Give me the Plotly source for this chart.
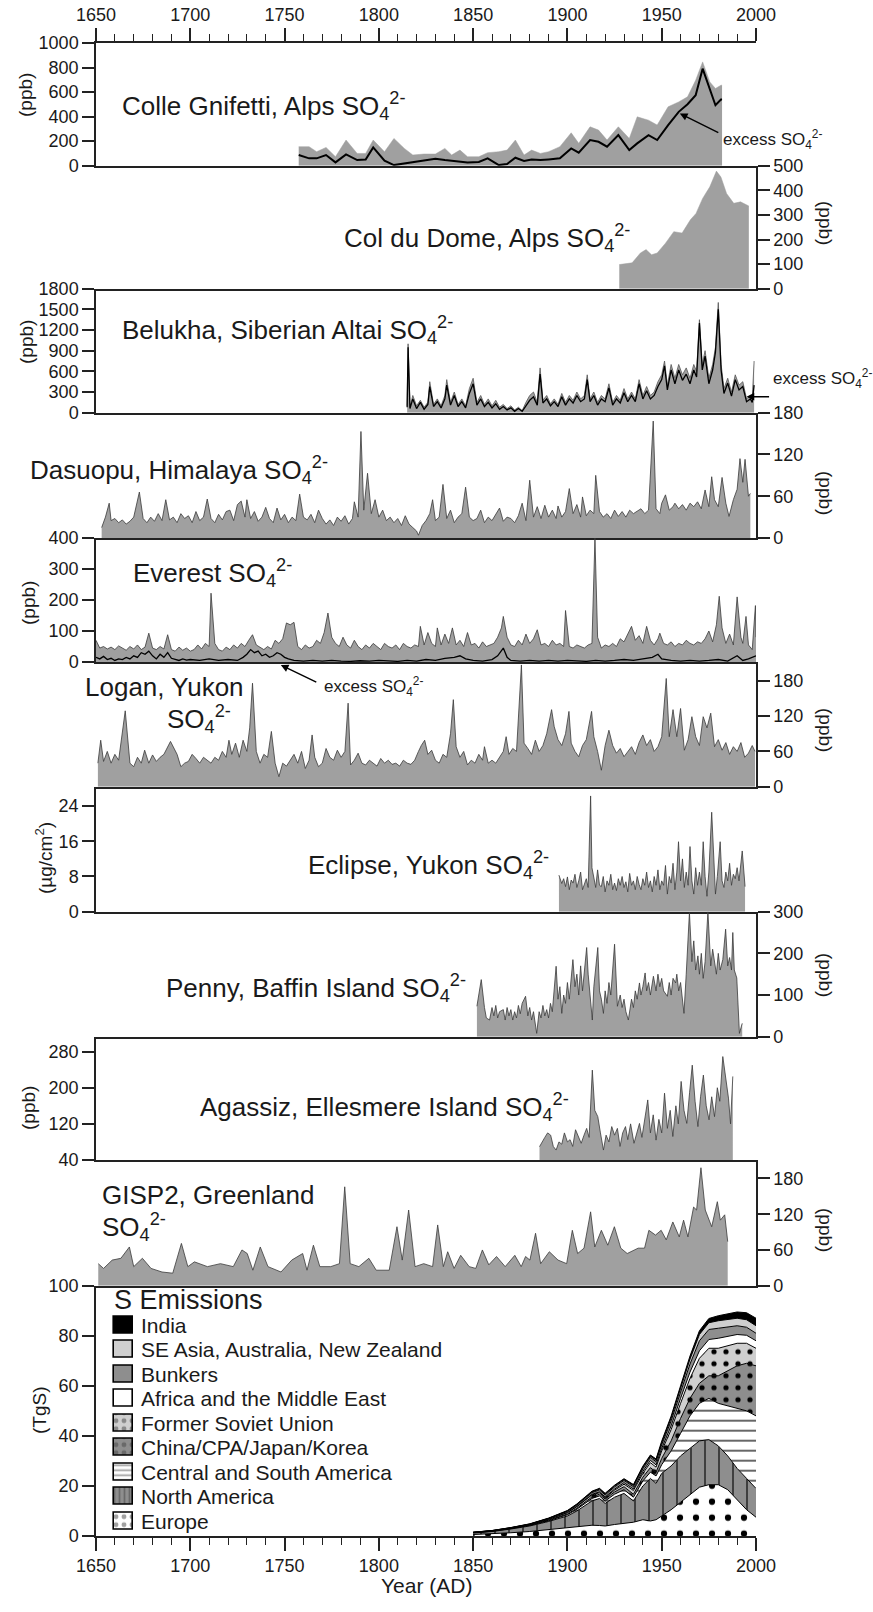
import plotly.graph_objects as go

# ---------------- data ----------------
colle_total = [(1757.5,155),(1763,155),(1767,114),(1772,149),(1777,73),(1782.6,209),(1788.5,100),(1793,100),
               (1797,209),(1803,114),(1808,222),(1813.5,141),(1818,87),(1824,95),(1830,95),(1835,141),(1838.6,87),
               (1843,127),(1847,73),(1853,73),(1857.7,106),(1863.6,114),(1868,127),(1872.4,209),(1877,87),(1881,127),
               (1885.7,100),(1890,114),(1896,155),(1902,268),(1906,182),(1912,317),(1916.5,290),(1921,209),(1927,317),
               (1932.8,222),(1937,398),(1943,371),(1947.6,331),(1953.4,480),(1959,520),(1963.7,561),(1968,697),
               (1971.7,846),(1975.5,683),(1978.5,629),(1981.4,656),(1982,656)]
colle_excess = [(1757.5,87),(1763,60),(1767,60),(1772,87),(1777,27),(1782.6,92),(1788.5,46),(1793,51),(1797,149),
                (1803,41),(1808,5),(1813.5,19),(1818,30),(1824,46),(1830,57),(1835,46),(1843,30),(1847,27),(1853,30),
                (1857.7,60),(1863.6,5),(1868,14),(1872.4,65),(1877,38),(1881,51),(1885.7,46),(1890,51),(1896,60),
                (1902,141),(1906,106),(1912,209),(1916.5,195),(1921,155),(1927,249),(1932.8,127),(1937,182),(1943,249),
                (1947.6,209),(1953.4,331),(1959,439),(1963.7,501),(1968,575),(1971.7,791),(1975.5,629),(1978.5,493),
                (1981.4,539),(1982,539)]

coldudome = [(1927.5,98),(1934.3,105),(1938.7,145),(1941.7,159),(1944.6,138),(1947.6,145),(1952,185),(1956.4,232),
             (1960.8,226),(1965.2,280),(1968.2,306),(1971.7,367),(1975.5,414),(1979,478),(1981.4,454),(1984.4,387),
             (1988.2,347),(1991.8,353),(1996.2,336)]

belukha_total = [(1815,100),(1815.5,1000),(1816.5,80),(1818,250),(1820,100),(1822,180),(1824,80),(1826,150),(1827,450),
    (1829,120),(1831,200),(1833,100),(1835,250),(1836,480),(1838,150),(1840,300),(1842,120),(1844,200),(1846,100),
    (1848,350),(1850,500),(1852,150),(1854,250),(1856,120),(1858,200),(1860,100),(1862,180),(1864,80),(1866,120),
    (1868,60),(1870,100),(1872,40),(1874,80),(1876,30),(1878,150),(1880,250),(1882,300),(1884,150),(1885.5,650),
    (1887,180),(1889,250),(1891,130),(1893,200),(1895,120),(1897,280),(1899,150),(1901,250),(1903,180),(1905,300),
    (1907,200),(1909,250),(1910.5,550),(1912,200),(1914,300),(1916,150),(1918,250),(1920,200),(1922,420),(1924,150),
    (1926,250),(1928,180),(1930,350),(1932,200),(1934,300),(1936,200),(1938,480),(1940,250),(1942,380),(1944,250),
    (1946,300),(1948,450),(1950,550),(1951.5,750),(1953,400),(1955,700),(1957,500),(1959,700),(1961,550),(1963,650),
    (1965,500),(1967,700),(1968.5,600),(1970,1350),(1971.5,700),(1973,900),(1975,500),(1977,700),(1978.5,950),
    (1980,1600),(1981.5,700),(1983,350),(1985,500),(1987,300),(1989,550),(1991,400),(1993,450),(1995,200),(1997,250),
    (1998,200),(1999,750)]
belukha_excess = [(1815,80),(1815.5,950),(1816.5,60),(1818,200),(1820,60),(1822,150),(1824,50),(1826,120),(1827,380),
    (1829,90),(1831,160),(1833,70),(1835,200),(1836,400),(1838,110),(1840,250),(1842,90),(1844,160),(1846,70),
    (1848,280),(1850,420),(1852,110),(1854,200),(1856,90),(1858,150),(1860,70),(1862,130),(1864,50),(1866,90),
    (1868,40),(1870,70),(1872,20),(1874,60),(1876,20),(1878,100),(1880,180),(1882,230),(1884,110),(1885.5,560),
    (1887,140),(1889,200),(1891,100),(1893,160),(1895,90),(1897,230),(1899,110),(1901,200),(1903,140),(1905,250),
    (1907,160),(1909,200),(1910.5,480),(1912,160),(1914,250),(1916,110),(1918,200),(1920,160),(1922,360),(1924,110),
    (1926,200),(1928,140),(1930,290),(1932,160),(1934,250),(1936,160),(1938,420),(1940,200),(1942,320),(1944,200),
    (1946,250),(1948,380),(1950,480),(1951.5,680),(1953,330),(1955,620),(1957,420),(1959,620),(1961,470),(1963,560),
    (1965,420),(1967,620),(1968.5,520),(1970,1300),(1971.5,620),(1973,820),(1975,420),(1977,620),(1978.5,880),
    (1980,1500),(1981.5,620),(1983,280),(1985,430),(1987,240),(1989,480),(1991,330),(1993,380),(1995,160),(1997,200),
    (1998,150),(1999,400)]

dasuopu = [(1653,15),(1655,30),(1657,50),(1658,25),(1660,28),(1662,22),(1664,26),(1666,20),(1668,24),(1670,30),(1673,66),
    (1675,28),(1677,22),(1679,30),(1681,24),(1683,35),(1685,25),(1687,55),(1689,26),(1691,30),(1693,22),(1695,35),
    (1697,28),(1699,32),(1701,22),(1703,38),(1705,25),(1707,30),(1709,56),(1711,28),(1713,22),(1715,34),(1717,26),
    (1719,38),(1721,40),(1723,25),(1725,48),(1727,53),(1729,30),(1730,55),(1732,28),(1734,38),(1736,24),(1738,30),
    (1740,44),(1742,28),(1744,22),(1746,43),(1748,26),(1750,34),(1752,22),(1754,30),(1756,25),(1758,63),(1760,30),
    (1762,26),(1764,34),(1766,22),(1768,40),(1770,28),(1772,20),(1774,26),(1776,18),(1778,30),(1780,24),(1782,32),
    (1784,20),(1786,28),(1787,52),(1789,30),(1790.5,153),(1792,40),(1794,93),(1796,35),(1798,55),(1800,30),(1802,40),
    (1804,25),(1806,30),(1808,22),(1810,28),(1812,18),(1814,32),(1816,20),(1818,15),(1820,10),(1821,4),(1823,18),
    (1825,25),(1827,35),(1828.5,55),(1830,25),(1832,30),(1834,77),(1836,28),(1838,40),(1840,22),(1842,30),(1844,35),
    (1846,73),(1848,30),(1850,25),(1852,28),(1854,40),(1856,22),(1858,30),(1860,25),(1862,35),(1864,43),(1866,24),
    (1868,30),(1870,28),(1872,22),(1874,32),(1876,50),(1878,25),(1880,83),(1882,30),(1884,45),(1886,28),(1888,47),
    (1890,30),(1892,40),(1894,28),(1895,46),(1897,30),(1899,38),(1901,71),(1903,35),(1905,48),(1907,30),(1908,59),
    (1910,32),(1912,40),(1914,35),(1915,90),(1917,38),(1919,30),(1921,35),(1923,28),(1925,40),(1927,31),(1929,38),
    (1931,30),(1933,40),(1935,35),(1937,38),(1939,42),(1941,35),(1943,40),(1945.5,168),(1947,42),(1949,35),(1950,50),
    (1952,62),(1954,40),(1956,45),(1957,50),(1959,42),(1961,48),(1963,40),(1965,50),(1967,45),(1969,52),(1971,42),
    (1973,69),(1975,45),(1976.5,88),(1978,55),(1980,45),(1982,87),(1984,50),(1985.7,31),(1988,55),(1990,70),
    (1991.5,114),(1993,80),(1994.2,113),(1996,60),(1997,64)]

everest_total = [(1650,70),(1652,45),(1654,50),(1656,42),(1658,48),(1660,40),(1662,52),(1664,45),(1666,38),(1668,50),
    (1670,42),(1672,55),(1674,40),(1676,48),(1678,93),(1680,45),(1682,40),(1684,50),(1686,42),(1688,88),(1690,40),
    (1692,35),(1694,48),(1696,38),(1698,45),(1700,35),(1702,40),(1704,55),(1706,42),(1708,60),(1710,50),(1711,222),
    (1713,60),(1715,40),(1717,35),(1719,48),(1721,40),(1723,55),(1725,45),(1727,60),(1729,50),(1731,70),(1733,88),
    (1735,55),(1737,48),(1739,40),(1741,50),(1743,42),(1745,70),(1747,60),(1749,75),(1751,126),(1753,120),(1755,128),
    (1757,50),(1759,40),(1761,55),(1763,45),(1765,50),(1767,70),(1769,60),(1771,95),(1773,158),(1775,80),(1777,60),
    (1779,50),(1781,80),(1783,55),(1785,45),(1787,70),(1789,50),(1791,40),(1793,55),(1795,45),(1797,60),(1799,50),
    (1801,40),(1803,60),(1805,50),(1807,45),(1809,55),(1811,40),(1813,60),(1815,50),(1817,45),(1819,55),(1821,50),
    (1822,115),(1824,55),(1826,95),(1828,60),(1830,50),(1831,110),(1833,55),(1835,90),(1837,60),(1839,110),(1841,55),
    (1843,70),(1845,50),(1847,95),(1849,55),(1851,60),(1853,45),(1855,65),(1857,50),(1859,55),(1861,60),(1863,80),
    (1865,110),(1866,147),(1868,80),(1870,55),(1872,50),(1874,70),(1876,55),(1878,90),(1880,60),(1882,75),(1884,104),
    (1886,55),(1888,60),(1890,50),(1892,70),(1894,55),(1896,60),(1898,50),(1899,166),(1901,50),(1903,45),(1905,55),
    (1907,50),(1909,45),(1911,55),(1913,60),(1914.6,400),(1916,80),(1918,45),(1920,55),(1922,50),(1924,60),(1926,50),
    (1928,75),(1930,65),(1932,90),(1934,115),(1936,70),(1938,85),(1940,60),(1942,115),(1944,70),(1946,55),(1948,75),
    (1949,93),(1951,60),(1953,55),(1955,65),(1957,50),(1959,60),(1961,55),(1963,70),(1965,60),(1967,55),(1969,65),
    (1971,60),(1973,75),(1975,100),(1977,65),(1979,120),(1980.5,212),(1982,110),(1984,60),(1986,90),(1988,55),
    (1990,210),(1992,80),(1993,60),(1994.7,147),(1996,55),(1998,40),(1999.7,182),(2000,80)]
everest_excess = [(1650,15),(1652,10),(1654,18),(1656,8),(1658,12),(1660,5),(1662,10),(1664,8),(1666,15),(1668,10),
    (1670,20),(1672,15),(1674,30),(1676,25),(1678,35),(1680,20),(1682,10),(1684,25),(1686,15),(1688,30),(1690,12),
    (1692,8),(1694,5),(1696,10),(1698,6),(1700,8),(1705,5),(1710,10),(1715,5),(1720,8),(1725,5),(1728,15),(1730,25),
    (1732,40),(1734,30),(1736,35),(1738,20),(1740,25),(1742,15),(1744,20),(1746,30),(1748,25),(1750,15),(1752,10),
    (1755,5),(1760,3),(1765,5),(1770,3),(1775,5),(1780,3),(1785,2),(1790,4),(1795,3),(1800,5),(1805,3),(1810,2),
    (1815,5),(1820,3),(1825,8),(1830,5),(1835,12),(1840,15),(1843,20),(1846,10),(1850,5),(1855,3),(1860,8),(1863,20),
    (1866,45),(1868,15),(1870,5),(1875,3),(1880,5),(1885,3),(1890,5),(1895,3),(1900,5),(1905,3),(1910,2),(1915,5),
    (1920,3),(1925,5),(1930,8),(1935,5),(1940,10),(1945,15),(1948,25),(1950,10),(1955,5),(1960,3),(1965,5),(1970,3),
    (1975,5),(1980,8),(1985,3),(1990,20),(1993,5),(1996,10),(2000,20)]

logan = [(1651,40),(1652.5,79),(1654,43),(1656,60),(1658,40),(1660,55),(1662,45),(1665.5,129),(1668,40),(1670,34),
    (1672,50),(1674,40),(1675.8,62),(1678,40),(1680,54),(1682,43),(1684,50),(1686,55),(1689.5,77),(1691,68),(1693,55),
    (1695,34),(1697,40),(1699,43),(1701,55),(1703,48),(1705,40),(1707,50),(1709,45),(1711,40),(1713,50),(1715,45),
    (1717,60),(1719,50),(1720.5,79),(1722,55),(1724,74),(1726,50),(1728,79),(1730,60),(1731.5,100),(1733,176),(1735,60),
    (1737,40),(1739,55),(1741,50),(1743,94),(1745,40),(1747,17),(1749,40),(1751,35),(1753,45),(1755,55),(1757,40),
    (1759,60),(1761,31),(1763,45),(1764.6,88),(1766,50),(1768,34),(1770,40),(1772,65),(1774,50),(1776,45),(1778,62),
    (1780,50),(1782,60),(1783.7,142),(1785,37),(1787,45),(1789,57),(1791,40),(1793,37),(1795,45),(1797,40),(1799,35),
    (1801,48),(1803,40),(1805,45),(1807,38),(1809,40),(1811,35),(1813,45),(1815,40),(1817,38),(1819,45),(1821,60),
    (1822.5,70),(1824.3,79),(1826,55),(1828,62),(1830,45),(1832,40),(1834,55),(1836,50),(1838,90),(1839.5,148),
    (1841,68),(1843,50),(1845,60),(1847,37),(1849,45),(1851,40),(1853,55),(1855,45),(1856,68),(1858,40),(1860,45),
    (1862,40),(1864,50),(1866,60),(1867.5,85),(1869,55),(1871,65),(1873,60),(1875.6,207),(1877,74),(1879,65),(1881,55),
    (1883,79),(1885,60),(1887,70),(1889,90),(1891.6,131),(1893,102),(1895,80),(1897,70),(1899,90),(1900.8,128),
    (1902,74),(1904,60),(1906,51),(1908,70),(1910,80),(1912.8,128),(1914,85),(1916,60),(1918,28),(1920,70),(1922,96),
    (1924,70),(1926,57),(1928,65),(1930,51),(1932,60),(1934,68),(1936,55),(1938,75),(1940,88),(1942,70),(1944,80),
    (1946,60),(1948,68),(1950,85),(1952.4,184),(1954,85),(1956,131),(1958,85),(1960,133),(1962,62),(1964,80),
    (1966,119),(1968,85),(1970,70),(1972,119),(1974,100),(1976,125),(1978,68),(1980,80),(1982,62),(1984,75),(1986,55),
    (1988,68),(1990,60),(1992,75),(1994,50),(1996,57),(1998,70),(1999.5,60)]

eclipse = [(1895.5,8.3),(1897,6.4),(1898,7.5),(1899,5.7),(1900,7.9),(1901,5.0),(1902,7.2),(1903,6.5),(1904,8.5),
    (1905,5.5),(1906,7.0),(1907,9.0),(1908,5.0),(1909,6.5),(1910,7.5),(1911,5.5),(1912.3,26.3),(1913,10),(1914,7.2),
    (1915,5.5),(1916,9.5),(1917,6.0),(1918,5.7),(1919,8.0),(1920,4.5),(1921,7.0),(1922,6.0),(1923,8.5),(1924,5.0),
    (1925,6.5),(1926,4.8),(1927,7.5),(1928,6.0),(1929,8.0),(1930,5.5),(1931,6.8),(1932,4.5),(1933,8.7),(1934,6.0),
    (1935,7.0),(1936,5.0),(1937,8.0),(1938,6.2),(1939,5.0),(1940,7.5),(1941,6.0),(1942,9.0),(1943,5.5),(1944,7.0),
    (1945,4.5),(1946,8.0),(1947,6.0),(1948,9.5),(1949,5.0),(1950,7.0),(1951,6.0),(1952,10.5),(1953,4.0),(1954,8.0),
    (1955,6.5),(1956,11.0),(1957,5.0),(1958,9.0),(1958.9,15.9),(1960,7.0),(1961,12.0),(1962,5.5),(1963,9.0),(1964,6.0),
    (1965,14.8),(1966,7.0),(1967,4.0),(1968,10.0),(1969,6.0),(1970,9.0),(1971,6.0),(1972,15.9),(1973,8.0),(1974,3.5),
    (1975,9.0),(1976.5,22.6),(1977.5,12),(1978.5,4.0),(1979.5,8.0),(1981,15.9),(1982,7),(1983,5.5),(1984,9.0),
    (1985,7.0),(1986,11.0),(1987,6.0),(1988,8.5),(1989,7.5),(1990,10.0),(1991,7.0),(1992.7,13.8),(1993.5,9),(1994.2,5.7)]

penny = [(1852,73),(1853,100),(1854.3,137),(1856,70),(1857,45),(1858.7,40),(1860,70),(1861,50),(1862,75),(1863,45),
    (1864,60),(1866,65),(1867,40),(1868,70),(1869,50),(1870,65),(1871,40),(1872,60),(1873,45),(1874,75),(1875,55),
    (1876,80),(1877.8,97),(1879,50),(1880,70),(1881,40),(1882,60),(1883.7,8),(1885,60),(1886,45),(1887,75),(1888,50),
    (1889,65),(1890,45),(1891,80),(1892,60),(1894,169),(1895,90),(1896,120),(1897,56),(1898,100),(1899,80),(1900,130),
    (1901,90),(1902.9,185),(1904,120),(1905,150),(1906,100),(1907,170),(1908,110),(1910.2,214),(1911,150),(1912,90),
    (1913.2,40),(1914,120),(1916.1,214),(1917,110),(1918,90),(1919.1,56),(1920,110),(1921,80),(1922,130),(1923,100),
    (1925,222),(1926.5,73),(1928,100),(1929,70),(1930,90),(1931,60),(1932.3,40),(1934,90),(1935,70),(1936,110),
    (1937,90),(1938.2,129),(1939,100),(1940,120),(1941.2,153),(1942,110),(1943,130),(1944,100),(1945.6,145),(1947,110),
    (1948,150),(1949,120),(1950,140),(1951,110),(1953,97),(1954,130),(1955,100),(1956,140),(1957.4,129),(1958,150),
    (1959,110),(1960,130),(1961.8,56),(1963,150),(1964.7,298),(1966,180),(1967,230),(1968,160),(1969.2,194),(1970,150),
    (1971,200),(1972,140),(1973,180),(1974.5,300),(1976,170),(1977,210),(1978,177),(1979,150),(1980,200),(1981,160),
    (1982.4,185),(1983.9,258),(1985,170),(1986,190),(1987,160),(1987.7,250),(1988.5,160),(1989.8,141),(1991.2,8),
    (1992.7,32)]

agassiz = [(1885.2,69.5),(1886.5,80),(1888,90),(1889.5,100),(1891.1,95),(1892.5,70),(1894,62),(1895.5,80),(1897,75),
    (1898.4,100),(1900,80),(1901.4,85),(1902.8,70),(1904.3,107),(1905.8,90),(1907.3,77),(1908.8,95),(1910.2,110),
    (1911.5,90),(1913.2,239),(1914.5,150),(1916.1,136),(1917.5,100),(1919.1,62),(1920.5,95),(1922,80),(1923.5,114),
    (1925,95),(1926.5,110),(1927.9,70),(1929.3,100),(1930.8,114),(1932,85),(1933.5,120),(1935.3,77),(1936.8,100),
    (1938.2,121),(1939.5,90),(1941,130),(1942.6,173),(1944,100),(1945.5,140),(1947,84),(1948.5,130),(1950,100),
    (1951.5,188),(1953,110),(1954.5,150),(1955.9,92),(1957.5,160),(1958.8,120),(1960.3,214),(1961.8,150),(1963.3,121),
    (1964.8,190),(1966.2,250),(1967.7,170),(1969.2,114),(1970.6,180),(1972.1,228),(1973.6,160),(1975.1,129),
    (1976.5,180),(1978,136),(1979.5,200),(1980.8,170),(1982.4,269),(1983.9,220),(1985.4,177),(1986.5,120),(1987.7,225)]

gisp2 = [(1651.2,37),(1654,29),(1658.6,43),(1663.2,46),(1667.7,65),(1670,32),(1674.6,46),(1679.2,29),(1685,23),
    (1690.7,21),(1695.3,71),(1698.7,32),(1702.2,40),(1709.1,32),(1716,37),(1722.8,32),(1727.4,60),(1730.2,54),
    (1733.2,26),(1737.1,65),(1741.2,32),(1748.1,23),(1753.8,43),(1759.6,54),(1761.9,26),(1765.3,68),(1768.7,32),
    (1774.5,32),(1779.1,37),(1781.9,166),(1784.8,37),(1789.4,32),(1794.7,46),(1798.6,26),(1805.5,26),(1809.6,99),
    (1812.4,43),(1815.8,127),(1819.2,32),(1823.8,37),(1828.5,32),(1831.2,102),(1834.2,32),(1836.5,57),(1839.9,29),
    (1843.4,51),(1847.9,32),(1851.4,29),(1854.9,60),(1858.3,35),(1862.4,49),(1867,32),(1872.1,51),(1875.5,32),
    (1877.8,49),(1880.1,43),(1883.1,88),(1885.8,37),(1890.4,57),(1895,43),(1899.6,37),(1902.6,93),(1905.4,54),
    (1908.8,63),(1912.3,124),(1914.5,65),(1918,93),(1921.4,68),(1924.9,99),(1928.3,63),(1931.7,54),(1937.5,63),
    (1940.9,63),(1943.2,93),(1946.7,85),(1949.7,93),(1952.4,77),(1955.9,107),(1959.3,82),(1961.6,110),(1963.9,82),
    (1966.9,132),(1968.5,127),(1970.8,198),(1973.1,127),(1976.5,99),(1979.5,141),(1981.1,110),(1983.4,119),(1985,74)]

em_years = [1850,1860,1870,1880,1890,1900,1905,1910,1913,1917,1920,1925,1930,1935,1940,1944,1947,1950,1955,1960,
            1965,1970,1975,1980,1985,1990,1995,2000]
em_europe = [0.6,0.9,1.3,1.8,2.5,3.2,3.6,4.0,4.3,4.2,4.0,4.6,5.0,5.5,6.5,6.0,6.5,8.0,10.5,13.5,16.5,19.5,20.5,20.5,18.5,14.5,10.5,7.5]
em_north_america = [0.6,0.9,1.5,2.2,3.3,4.8,6.4,8.5,9.7,10.8,9.0,10.9,12.0,8.5,13.5,17.0,14.5,17.0,17.5,18.5,18.5,18.5,18.0,15.5,13.5,12.5,12.5,11.5]
em_central_south_america = [0.1,0.1,0.15,0.2,0.3,0.5,0.7,1.0,1.0,1.0,1.0,1.2,1.5,1.5,2.0,2.5,3.0,3.5,6,9,13,15,16.5,17,20,24,27,29]
em_china = [0.05,0.07,0.1,0.15,0.2,0.3,0.4,0.5,0.6,0.7,0.8,0.9,1.2,1.2,1.5,1.8,1.5,2.5,4,6,7,8,9,11,14,17,19,20]
em_fsu = [0.05,0.07,0.1,0.15,0.3,0.5,0.6,0.7,0.8,0.6,0.5,0.7,1.0,1.5,1.5,2.0,2.0,3.0,4.5,6,8,10,11,11,10,9,8,7]
em_africa = [0.02,0.02,0.03,0.05,0.07,0.1,0.15,0.2,0.25,0.3,0.3,0.4,0.6,0.6,0.8,0.9,0.9,1.0,1.5,2.0,2.5,3.0,3.5,4.0,3.8,3.5,3.2,3.0]
em_bunkers = [0.05,0.07,0.1,0.15,0.25,0.4,0.5,0.6,0.7,0.8,0.8,0.9,0.9,0.9,1.1,1.2,1.3,1.5,2.0,2.5,3.2,4.0,4.0,4.0,3.6,3.5,3.2,3.0]
em_se_asia = [0.02,0.03,0.05,0.08,0.12,0.2,0.25,0.3,0.3,0.35,0.35,0.4,0.4,0.5,0.6,0.5,0.6,0.8,1.1,1.5,2.0,2.5,2.7,3.0,3.0,3.0,3.0,3.0]
em_india = [0.02,0.03,0.05,0.08,0.12,0.2,0.2,0.25,0.25,0.3,0.3,0.3,0.3,0.35,0.4,0.45,0.5,0.6,0.8,1.0,1.2,1.5,1.7,2.0,2.2,2.5,2.8,3.0]

y_ticks = {1: [0, 200, 400, 600, 800, 1000], 2: [0, 100, 200, 300, 400, 500], 3: [0, 300, 600, 900, 1200, 1500, 1800],
           4: [0, 60, 120, 180], 5: [0, 100, 200, 300, 400], 6: [0, 60, 120, 180], 7: [0, 8, 16, 24],
           8: [0, 100, 200, 300], 9: [40, 120, 200, 280], 10: [0, 60, 120, 180], 11: [0, 20, 40, 60, 80, 100]}
y_ranges = {1: [0, 1000], 2: [0, 500], 3: [0, 1800], 4: [0, 180], 5: [0, 400], 6: [0, 212], 7: [0, 28.4],
            8: [0, 300], 9: [40, 313], 10: [0, 211], 11: [0, 100]}
y_titles = {1: '(ppb)', 2: '(ppb)', 3: '(ppb)', 4: '(ppb)', 5: '(ppb)', 6: '(ppb)', 7: '(µg/cm<sup>2</sup>)',
            8: '(ppb)', 9: '(ppb)', 10: '(ppb)', 11: '(TgS)'}

# ---------------- layout geometry ----------------
W, H = 873, 1612
ML, MR, MT, MB = 96, 117, 43, 76
PW, PH = W - ML - MR, H - MT - MB
FONT = 'Liberation Sans, Arial, Helvetica, sans-serif'
TXT = '#1a1a1a'
AX = '#222222'
GRAY = '#a0a0a0'
OUT = '#3a3a3a'
DARK = '#8e8e8e'
LIGHT = '#cfcfcf'
SO4 = 'SO<sub>4</sub><sup>2-</sup>'

panel_px = {1: (43, 165.7), 2: (165.7, 288.7), 3: (288.7, 412.7), 4: (412.7, 538), 5: (538, 662),
            6: (662, 786.7), 7: (786.7, 911.7), 8: (911.7, 1036.7), 9: (1036.7, 1160), 10: (1160, 1285.7),
            11: (1285.7, 1536)}
right_side = {2, 4, 6, 8, 10}


def xp(px):
    return (px - ML) / PW


def yp(py):
    return (H - MB - py) / PH


def clamp(v):
    return min(1.0, max(0.0, v))


def ax_name(kind, i):
    return kind if i == 1 else f'{kind}{i}'


fig = go.Figure()


def area(data, i, outline=OUT, lw=0.8):
    xs, ys = zip(*data)
    fig.add_trace(go.Scatter(x=list(xs), y=list(ys), mode='lines', fill='tozeroy', fillcolor=GRAY,
                             line=dict(color=outline, width=lw), showlegend=False,
                             xaxis=ax_name('x', i), yaxis=ax_name('y', i)))


def line(data, i, color='black', lw=1.2):
    xs, ys = zip(*data)
    fig.add_trace(go.Scatter(x=list(xs), y=list(ys), mode='lines', line=dict(color=color, width=lw),
                             showlegend=False, xaxis=ax_name('x', i), yaxis=ax_name('y', i)))


area(colle_total, 1, outline=GRAY, lw=0.5)
line(colle_excess, 1, lw=2)
area(coldudome, 2, outline=GRAY, lw=0.5)
area(belukha_total, 3, outline='#555555', lw=0.8)
line(belukha_excess, 3, lw=1.3)
area(dasuopu, 4)
area(everest_total, 5)
line(everest_excess, 5, lw=1.3)
area(logan, 6)
area(eclipse, 7)
area(penny, 8)
area(agassiz, 9)
area(gisp2, 10)

# stacked S emissions (bottom to top)
em_names = ['Europe', 'North America', 'Central and South America', 'China/CPA/Japan/Korea',
            'Former Soviet Union', 'Africa and the Middle East', 'Bunkers',
            'SE Asia, Australia, New Zealand', 'India']
em_values = [em_europe, em_north_america, em_central_south_america, em_china, em_fsu, em_africa,
             em_bunkers, em_se_asia, em_india]
em_shape = ['.', '|', '-', '.', '.', '', '', '', '']
em_bg = ['white', DARK, 'white', DARK, LIGHT, 'white', DARK, LIGHT, 'black']
em_size = [16, 14, 10, 12, 12, 8, 8, 8, 8]
em_solid = [0.12, 0.08, 0.12, 0.15, 0.15, 0.2, 0.2, 0.2, 0.2]

for k, name in enumerate(em_names):
    kw = dict(x=em_years, y=em_values[k], name=name, mode='lines', stackgroup='em', showlegend=False,
              line=dict(color='black', width=1), xaxis='x11', yaxis='y11', fillcolor=em_bg[k])
    if em_shape[k]:
        kw['fillpattern'] = dict(shape=em_shape[k], bgcolor=em_bg[k], fgcolor='black',
                                 size=em_size[k], solidity=em_solid[k])
    fig.add_trace(go.Scatter(**kw))

# legend swatches (own small axis inside the emissions panel)
LEG_TITLE_Y = 1300
LEG_FIRST_Y = 1325
LEG_STEP = 24.5
LEG_X0, LEG_X1 = 112, 135
leg_pat_size = [8, 5, 5, 8, 8, 8, 8, 8, 8]
leg_pat_solid = [0.3, 0.35, 0.35, 0.3, 0.3, 0.2, 0.2, 0.2, 0.2]
fig.add_trace(go.Bar(y=em_names, x=[1] * len(em_names), orientation='h', width=0.68, showlegend=False,
                     xaxis='x12', yaxis='y12', hoverinfo='skip', cliponaxis=False,
                     marker=dict(color=em_bg, line=dict(color='black', width=1.6),
                                 pattern=dict(shape=em_shape, fgcolor='black', fillmode='overlay',
                                              size=leg_pat_size, solidity=leg_pat_solid))))

# ---------------- axes ----------------
layout = dict(width=W, height=H, margin=dict(l=ML, r=MR, t=MT, b=MB), template='none',
              plot_bgcolor='white', paper_bgcolor='white', font=dict(family=FONT, color=TXT, size=18),
              showlegend=False, bargap=0)

for i in range(1, 12):
    top, bot = panel_px[i]
    xa = dict(range=[1650, 2000], domain=[0, 1], anchor=ax_name('y', i), showgrid=False, zeroline=False,
              showline=True, linecolor=AX, linewidth=1.5)
    if i != 1:
        xa['matches'] = 'x'
    if i == 1:
        xa.update(side='top', mirror=True, ticks='outside', ticklen=13, tickwidth=1.5, tickcolor=AX,
                  tick0=1650, dtick=50, showticklabels=True, tickfont=dict(size=18, color=TXT),
                  minor=dict(dtick=10, tick0=1650, ticks='outside', ticklen=7, tickwidth=1.3, tickcolor=AX))
    elif i == 11:
        xa.update(side='bottom', ticks='outside', ticklen=13, tickwidth=1.5, tickcolor=AX,
                  tick0=1650, dtick=50, showticklabels=True, tickfont=dict(size=18, color=TXT),
                  minor=dict(dtick=10, tick0=1650, ticks='outside', ticklen=7, tickwidth=1.3, tickcolor=AX))
    else:
        xa.update(ticks='', showticklabels=False)
    ya = dict(range=y_ranges[i], domain=[clamp(yp(bot)), clamp(yp(top))], anchor=ax_name('x', i),
              side='right' if i in right_side else 'left', showgrid=False, zeroline=False,
              showline=True, linecolor=AX, linewidth=1.5, ticks='outside', ticklen=12, tickwidth=1.5,
              tickcolor=AX, tickvals=y_ticks[i], tickfont=dict(size=18, color=TXT))
    layout['xaxis' if i == 1 else f'xaxis{i}'] = xa
    layout['yaxis' if i == 1 else f'yaxis{i}'] = ya

leg_last_y = LEG_FIRST_Y + LEG_STEP * (len(em_names) - 1)
layout['xaxis12'] = dict(domain=[xp(LEG_X0), xp(LEG_X1)], range=[-0.1, 1.1], anchor='y12', visible=False,
                         fixedrange=True)
layout['yaxis12'] = dict(domain=[yp(leg_last_y + LEG_STEP / 2), yp(LEG_FIRST_Y - LEG_STEP / 2)],
                         anchor='x12', visible=False, categoryorder='array', categoryarray=em_names,
                         fixedrange=True)

ann = []


def text(t, px, py, size=26, xanchor='left', angle=0):
    ann.append(dict(text=t, x=xp(px), y=yp(py), xref='paper', yref='paper', xanchor=xanchor,
                    yanchor='middle', showarrow=False, textangle=angle,
                    font=dict(size=size, family=FONT, color=TXT)))


text('Colle Gnifetti, Alps ' + SO4, 120, 106)
text('Col du Dome, Alps ' + SO4, 342, 238)
text('Belukha, Siberian Altai ' + SO4, 120, 330)
text('Dasuopu, Himalaya ' + SO4, 28, 470)
text('Everest ' + SO4, 131, 573)
text('Logan, Yukon', 83, 687)
text(SO4, 165, 719)
text('Eclipse, Yukon ' + SO4, 306, 865)
text('Penny, Baffin Island ' + SO4, 164, 988)
text('Agassiz, Ellesmere Island ' + SO4, 198, 1107)
text('GISP2, Greenland', 100, 1195)
text(SO4, 100, 1227)

text('excess ' + SO4, 721, 140, size=17)
text('excess ' + SO4, 771, 378, size=17)
text('excess ' + SO4, 322, 686, size=17)

title_pos = {1: (26, 95), 2: (826, 223), 3: (26, 342), 4: (826, 493), 5: (28, 603), 6: (826, 730),
             7: (44, 858), 8: (826, 975), 9: (28, 1108), 10: (826, 1230), 11: (39, 1410)}
for i, (px, py) in title_pos.items():
    text(y_titles[i], px, py, size=19, xanchor='center', angle=90 if i in right_side else -90)

text('Year (AD)', (ML + W - MR) / 2, 1585, size=21, xanchor='center')

# manual legend texts (top entry first)
text('S Emissions', 112, LEG_TITLE_Y, size=27)
for k, name in enumerate(reversed(em_names)):
    text(name, 139, LEG_FIRST_Y + k * LEG_STEP, size=21)


def arrow(x, y, yref, dx, dy):
    ann.append(dict(x=x, y=y, xref='x', yref=yref, text='', showarrow=True, arrowhead=2, arrowsize=1.1,
                    arrowwidth=1.4, arrowcolor='black', ax=dx, ay=dy, axref='pixel', ayref='pixel'))


arrow(1959.6, 426, 'y', 40, 20)
arrow(1995, 232, 'y3', 24, 0)
arrow(1748, 207, 'y6', 37, 18)

layout['annotations'] = ann

fig.update_layout(**layout)
fig.write_html('out.html')
